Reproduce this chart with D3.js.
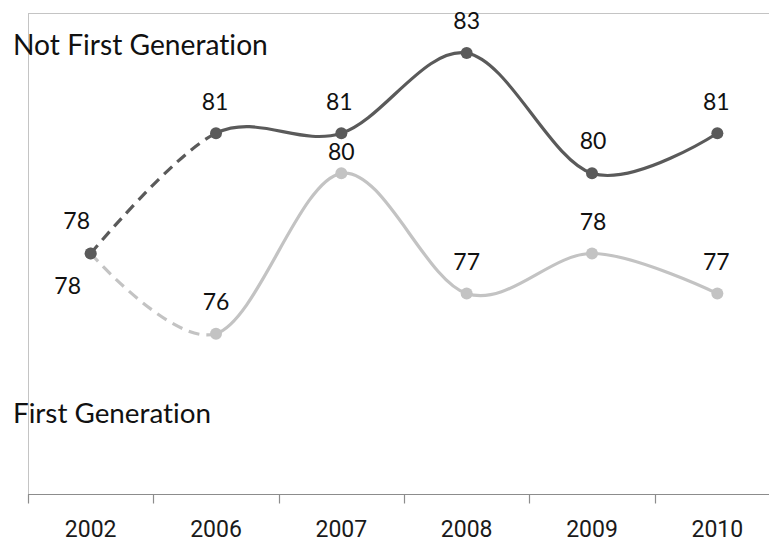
<!DOCTYPE html>
<html>
<head>
<meta charset="utf-8">
<script src="https://cdn.jsdelivr.net/npm/d3@7"></script>
<style>
  html, body { margin: 0; padding: 0; background: #fff; }
  svg { display: block; }
  text { font-variant-ligatures: none; font-feature-settings: "liga" 0; }
</style>
</head>
<body>
<svg id="chart" width="769" height="542"></svg>
<script>
// ---- data ----
const years = ["2002", "2006", "2007", "2008", "2009", "2010"];
const notFirstGen = [78, 81, 81, 83, 80, 81];
const firstGen = [78, 76, 80, 77, 78, 77];
const seriesNames = ["Not First Generation", "First Generation"];
const yDomain = [72, 84];

// label placement (offset of label centre from its point)
const notFirstLabelOffset = [[-14, -33], [-1, -32], [-2, -32], [0, -32], [1, -33], [-1, -32]];
const firstLabelOffset = [[-23, 32], [0, -32], [0, -22], [0, -32], [1, -32], [-1, -32]];

(function () {
const svg = d3.select("#chart");
const plotLeft = 28, plotRight = 780, plotTop = 13, plotBottom = 494;

const x = d3.scaleBand().domain(years).range([plotLeft, plotRight]).padding(0);
const y = d3.scaleLinear().domain(yDomain).range([plotBottom, plotTop]);
const cx = d => x(d) + x.bandwidth() / 2;

// plot frame (left and top border)
svg.append("line").attr("x1", plotLeft + 0.5).attr("x2", plotLeft + 0.5).attr("y1", plotTop).attr("y2", plotBottom)
  .attr("stroke", "#c4c4c4").attr("stroke-width", 1);
svg.append("line").attr("x1", plotLeft).attr("x2", plotRight).attr("y1", plotTop + 0.5).attr("y2", plotTop + 0.5)
  .attr("stroke", "#c4c4c4").attr("stroke-width", 1);

// x axis
const axisG = svg.append("g").attr("transform", `translate(0,${plotBottom + 0.5})`);
axisG.append("line").attr("x1", plotLeft).attr("x2", plotRight).attr("stroke", "#8c8c8c").attr("stroke-width", 1.2);
const tickPos = years.map(d => x(d)).concat([plotRight]);
axisG.selectAll("line.tick").data(tickPos).join("line").attr("class", "tick")
  .attr("x1", d => Math.round(d) + 0.5).attr("x2", d => Math.round(d) + 0.5)
  .attr("y1", 0).attr("y2", 9).attr("stroke", "#8c8c8c").attr("stroke-width", 1.2);
axisG.selectAll("text").data(years).join("text")
  .attr("x", d => cx(d)).attr("y", 42.5)
  .attr("text-anchor", "middle")
  .attr("font-family", "Roboto, 'Open Sans', sans-serif")
  .attr("font-size", 23).attr("fill", "#1a1a1a")
  .text(d => d);

// clip paths splitting dashed (2002-2006) and solid parts
const defs = svg.append("defs");
const splitX = cx(years[1]);
defs.append("clipPath").attr("id", "clipDash").append("rect")
  .attr("x", 0).attr("y", 0).attr("width", splitX).attr("height", 542);
defs.append("clipPath").attr("id", "clipSolid").append("rect")
  .attr("x", splitX).attr("y", 0).attr("width", 769 - splitX).attr("height", 542);

const line = d3.line().x((d, i) => cx(years[i])).y(d => y(d)).curve(d3.curveCardinal.tension(0));

function drawSeries(values, color, offsets) {
  const g = svg.append("g");
  g.append("path").attr("d", line(values)).attr("fill", "none")
    .attr("stroke", color).attr("stroke-width", 3.2)
    .attr("stroke-dasharray", "11,7").attr("clip-path", "url(#clipDash)");
  g.append("path").attr("d", line(values)).attr("fill", "none")
    .attr("stroke", color).attr("stroke-width", 3.2)
    .attr("clip-path", "url(#clipSolid)");
  g.selectAll("circle").data(values).join("circle")
    .attr("cx", (d, i) => cx(years[i])).attr("cy", d => y(d)).attr("r", 6)
    .attr("fill", color);
  g.selectAll("text").data(values).join("text")
    .attr("x", (d, i) => cx(years[i]) + offsets[i][0])
    .attr("y", (d, i) => y(d) + offsets[i][1])
    .attr("dy", "0.36em")
    .attr("text-anchor", "middle")
    .attr("font-family", "Lato, 'Open Sans', sans-serif")
    .attr("font-size", 23).attr("fill", "#111")
    .text(d => d);
}

drawSeries(firstGen, "#c3c3c3", firstLabelOffset);
drawSeries(notFirstGen, "#5a5a5a", notFirstLabelOffset);

// series name labels
function fitLabel(text, xPos, yPos, width) {
  const t = svg.append("text").attr("x", xPos).attr("y", yPos)
    .attr("font-family", "Lato, 'Open Sans', sans-serif")
    .attr("font-size", 26).attr("fill", "#111").text(text);
  const w = t.node().getComputedTextLength();
  t.attr("font-size", 26 * width / w);
}
fitLabel(seriesNames[0], 13, 55, 255);
fitLabel(seriesNames[1], 13, 423, 198);
})();
</script>
</body>
</html>
